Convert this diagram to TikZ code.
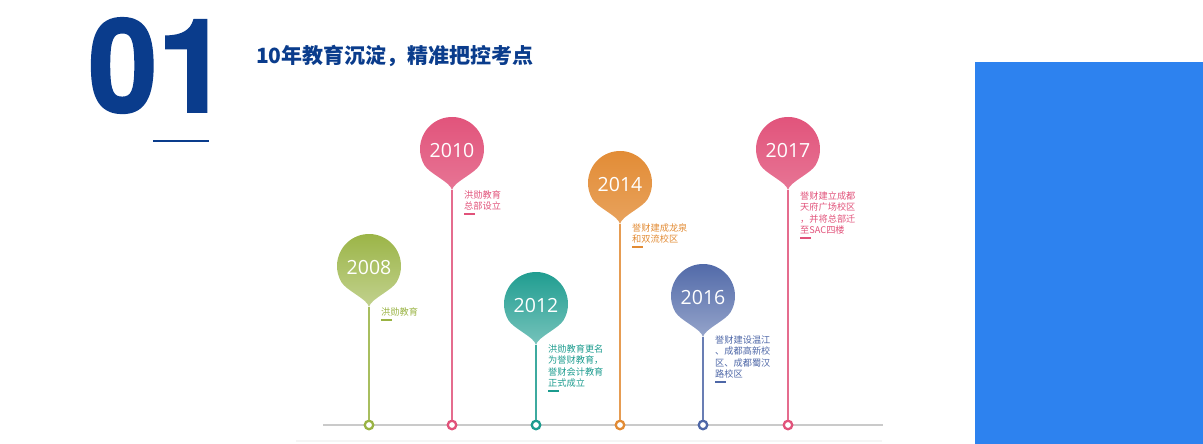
\documentclass[tikz,border=0pt]{standalone}
\usepackage{fontspec}
\newfontfamily\cjk{Noto Sans CJK SC}
\newfontfamily\yearfont{Open Sans}
\newfontfamily\bignum{TeX Gyre Heros}[BoldFeatures={FakeBold=1.5}]
\definecolor{navy}{HTML}{0A3C8C}
\definecolor{panel}{HTML}{2D82EF}
\definecolor{cgreen}{HTML}{99B343}
\definecolor{cpink}{HTML}{E1527A}
\definecolor{cteal}{HTML}{1B9B8E}
\definecolor{corange}{HTML}{E28B34}
\definecolor{cblue}{HTML}{4E67A7}
\definecolor{cbaseline}{HTML}{CACACA}
\tikzset{
  yeartext/.style={text=white, font=\yearfont\fontsize{19.5}{21}\selectfont, inner sep=0},
  desc/.style={font=\cjk\fontsize{9.2}{11.3}\selectfont, align=left, inner sep=0, anchor=north west},
  ring/.style={circle, line width=2.3pt, fill=white, minimum size=8.5pt, inner sep=0},
  stem/.style={line width=2pt},
  dashmark/.style={line width=2pt},
  bigdigit/.style={anchor=base west, inner sep=0, text=navy, font=\bignum\bfseries\fontsize{130}{130}\selectfont},
}
\newcommand\balloon[6]{%
  \begin{scope}[shift={(#2,#3)}]
    \shade[top color=#4, bottom color=#5]
      (0,-41) .. controls (1.5,-33) and (22.7,-24.7) .. (-30:32)
      arc[start angle=-30, end angle=210, radius=32]
      .. controls (-22.7,-24.7) and (-1.5,-33) .. cycle;
    \node[yeartext] (#1) at (0,-2) {#6};
    \coordinate (#1-tip) at (0,-41);
  \end{scope}}
\begin{document}
\begin{tikzpicture}[x=1pt,y=1pt]
\useasboundingbox (0,0) rectangle (1203,444);
% right panel
\fill[panel] (975,0) rectangle (1203,382);
% heading
\node[bigdigit, xscale=0.96] (num0) at (88,332) {0};
\node[bigdigit] (num1) at (157,332) {1};
\draw[navy, line width=1.5pt] (153,303) -- (209,303);
\node[anchor=west, inner sep=0, text=navy, font=\cjk\bfseries\fontsize{21}{23}\selectfont] (title) at (256,388) {10年教育沉淀，精准把控考点};
% baseline
\fill[gray!8] (296,2) rectangle (882,4);
\draw[cbaseline, line width=1.6pt] (323,19) -- (883,19);
% balloons
\balloon{y08}{369}{178}{cgreen}{cgreen!60!white}{2008}
\balloon{y10}{452}{295}{cpink}{cpink!80!white}{2010}
\balloon{y12}{536}{140}{cteal}{cteal!60!white}{2012}
\balloon{y14}{620}{261}{corange}{corange!80!white}{2014}
\balloon{y16}{703}{148}{cblue}{cblue!60!white}{2016}
\balloon{y17}{788}{295}{cpink}{cpink!80!white}{2017}
% rings
\node[ring, draw=cgreen] (r08) at (369,19) {};
\node[ring, draw=cpink] (r10) at (452,19) {};
\node[ring, draw=cteal] (r12) at (536,19) {};
\node[ring, draw=corange] (r14) at (620,19) {};
\node[ring, draw=cblue] (r16) at (703,19) {};
\node[ring, draw=cpink] (r17) at (788,19) {};
% stems
\draw[stem, cgreen!85!white] (y08-tip) -- (r08.north);
\draw[stem, cpink!85!white] (y10-tip) -- (r10.north);
\draw[stem, cteal!85!white] (y12-tip) -- (r12.north);
\draw[stem, corange!85!white] (y14-tip) -- (r14.north);
\draw[stem, cblue!85!white] (y16-tip) -- (r16.north);
\draw[stem, cpink!85!white] (y17-tip) -- (r17.north);
% descriptions
\node[desc, text=cgreen] (d08) at (381,136.5) {洪勋教育};
\node[desc, text=cpink] (d10) at (464,253.5) {洪勋教育\\总部设立};
\node[desc, text=cteal] (d12) at (548,99.5) {洪勋教育更名\\为誉财教育，\\誉财会计教育\\正式成立};
\node[desc, text=corange] (d14) at (632,220.5) {誉财建成龙泉\\和双流校区};
\node[desc, text=cblue] (d16) at (715,108.5) {誉财建设温江\\、成都高新校\\区、成都蜀汉\\路校区};
\node[desc, text=cpink] (d17) at (800,252.5) {誉财建立成都\\天府广场校区\\，并将总部迁\\至SAC四楼};
% small dashes
\foreach \d/\c in {d08/cgreen, d10/cpink, d12/cteal, d14/corange, d16/cblue, d17/cpink}
  \draw[dashmark, \c] ([yshift=-3.5pt]\d.south west) -- ++(11,0);
\end{tikzpicture}
\end{document}
